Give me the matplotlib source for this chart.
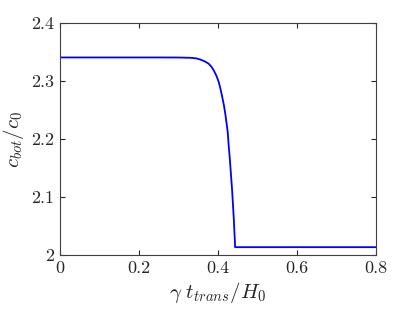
import matplotlib
matplotlib.use('Agg')
import matplotlib.pyplot as plt

plt.rcParams['font.family'] = 'cmr10'
plt.rcParams['mathtext.fontset'] = 'cm'
plt.rcParams['axes.formatter.use_mathtext'] = True

# values
t_trans = [0.0, 0.25, 0.30, 0.33, 0.345, 0.355, 0.366, 0.376, 0.383, 0.389, 0.396,
           0.402, 0.406, 0.410, 0.415, 0.419, 0.4246, 0.427, 0.4297, 0.4358,
           0.4398, 0.4434, 0.46, 0.8]
c_bot = [2.3406, 2.3406, 2.3405, 2.3400, 2.3390, 2.337, 2.334, 2.330, 2.325, 2.3186,
         2.309, 2.298, 2.287, 2.275, 2.258, 2.241, 2.2118, 2.189, 2.168, 2.111,
         2.0646, 2.0135, 2.0135, 2.0135]

xticks = [0, 0.2, 0.4, 0.6, 0.8]
yticks = [2, 2.1, 2.2, 2.3, 2.4]

fig = plt.figure(figsize=(4.15, 3.12), dpi=100)
ax = fig.add_axes([60 / 415, 57 / 312, 316 / 415, 232 / 312])

ax.plot(t_trans, c_bot, color='#0000ff', lw=1.3)

ax.set_xlim(0, 0.8)
ax.set_ylim(2, 2.4)
ax.set_xticks(xticks)
ax.set_yticks(yticks)
ax.set_xticklabels(['0', '0.2', '0.4', '0.6', '0.8'])
ax.set_yticklabels(['2', '2.1', '2.2', '2.3', '2.4'])

ax.tick_params(direction='in', top=True, right=True, length=3.5, width=0.8,
               labelsize=13, colors='#262626', pad=4)
for s in ax.spines.values():
    s.set_color('#404040')
    s.set_linewidth(0.8)

ax.set_xlabel(r'$\gamma\ t_{trans}/H_0$', fontsize=15, color='#262626', labelpad=3)
ax.set_ylabel(r'$c_{bot}/c_0$', fontsize=15, color='#262626', labelpad=4)

fig.savefig('out.png', dpi=100)
